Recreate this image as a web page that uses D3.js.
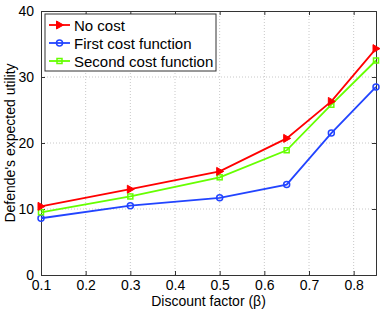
<!DOCTYPE html>
<html>
<head>
<meta charset="utf-8">
<script src="https://cdn.jsdelivr.net/npm/d3@7"></script>
<style>
  body { margin: 0; background: #fff; }
  text { font-family: "Liberation Sans", Arial, sans-serif; }
</style>
</head>
<body>
<script>
// Discount factor values
const betas = [0.1, 0.3, 0.5, 0.65, 0.75, 0.85];
const noCost = [10.4, 13.0, 15.7, 20.7, 26.3, 34.3];
const firstCost = [8.6, 10.5, 11.7, 13.7, 21.5, 28.5];
const secondCost = [9.5, 11.9, 14.8, 18.9, 25.8, 32.5];
const xTicks = [0.1, 0.2, 0.3, 0.4, 0.5, 0.6, 0.7, 0.8];
const yTicks = [0, 10, 20, 30, 40];

const series = [
    { name: "No cost", values: noCost, color: "#ff0000", marker: "triangle" },
    { name: "First cost function", values: firstCost, color: "#2244ff", marker: "circle" },
    { name: "Second cost function", values: secondCost, color: "#66ff00", marker: "square" }
];

const width = 382, height = 311;
const margin = { top: 11, right: 6, bottom: 36, left: 41 };

const x = d3.scaleLinear().domain([0.1, 0.85]).range([margin.left, width - margin.right]);
const y = d3.scaleLinear().domain([0, 40]).range([height - margin.bottom, margin.top]);

const svg = d3.select("body").append("svg")
    .attr("width", width)
    .attr("height", height);

// grid
svg.append("g")
    .selectAll("line")
    .data(xTicks.slice(1))
    .join("line")
    .attr("x1", d => x(d)).attr("x2", d => x(d))
    .attr("y1", y(0)).attr("y2", y(40))
    .attr("stroke", "#c8c8c8")
    .attr("stroke-dasharray", "1,2");

svg.append("g")
    .selectAll("line")
    .data(yTicks.slice(1, -1))
    .join("line")
    .attr("x1", x(0.1)).attr("x2", x(0.85))
    .attr("y1", d => y(d)).attr("y2", d => y(d))
    .attr("stroke", "#c8c8c8")
    .attr("stroke-dasharray", "1,2");

// axes, MATLAB style ticks pointing inward
const xAxis = d3.axisBottom(x).tickValues(xTicks).tickSize(-4).tickPadding(5).tickFormat(d3.format(".1f"));
const yAxis = d3.axisLeft(y).tickValues(yTicks).tickSize(-4).tickPadding(7);

svg.append("g")
    .attr("transform", `translate(0,${y(0)})`)
    .call(xAxis)
    .call(g => g.selectAll("text").attr("font-size", 14).attr("fill", "#000"));

svg.append("g")
    .attr("transform", `translate(${x(0.1)},0)`)
    .call(yAxis)
    .call(g => g.selectAll("text").attr("font-size", 14).attr("fill", "#000"));

svg.append("g")
    .attr("transform", `translate(0,${y(40)})`)
    .call(d3.axisTop(x).tickValues(xTicks).tickSize(-4).tickFormat(""));

svg.append("g")
    .attr("transform", `translate(${x(0.85)},0)`)
    .call(d3.axisRight(y).tickValues(yTicks).tickSize(-4).tickFormat(""));

svg.selectAll(".domain").attr("stroke", "#333");
svg.selectAll(".tick line").attr("stroke", "#333");

// axis titles
svg.append("text")
    .attr("x", (x(0.1) + x(0.85)) / 2)
    .attr("y", height - 5)
    .attr("text-anchor", "middle")
    .attr("font-size", 14)
    .text("Discount factor (β)");

svg.append("text")
    .attr("transform", `translate(15,${(y(0) + y(40)) / 2}) rotate(-90)`)
    .attr("text-anchor", "middle")
    .attr("font-size", 14)
    .text("Defende's expected utility");

function drawMarker(g, type, color) {
    if (type === "triangle") {
        g.append("path").attr("d", "M-3,-4L4,0L-3,4Z").attr("fill", color).attr("stroke", color).attr("stroke-width", 1);
    } else if (type === "circle") {
        g.append("circle").attr("r", 3).attr("fill", "none").attr("stroke", color).attr("stroke-width", 1.5);
    } else {
        g.append("rect").attr("x", -2.5).attr("y", -2.5).attr("width", 5).attr("height", 5)
            .attr("fill", "none").attr("stroke", color).attr("stroke-width", 1.5);
    }
}

const line = d3.line().x((d, i) => x(betas[i])).y(d => y(d));

// draw order: blue, green, red on top
[series[1], series[2], series[0]].forEach(s => {
    svg.append("path")
        .attr("d", line(s.values))
        .attr("fill", "none")
        .attr("stroke", s.color)
        .attr("stroke-width", 1.8);
    s.values.forEach((v, i) => {
        const g = svg.append("g").attr("transform", `translate(${x(betas[i])},${y(v)})`);
        drawMarker(g, s.marker, s.color);
    });
});

// legend
const lg = svg.append("g");
lg.append("rect")
    .attr("x", 45).attr("y", 14).attr("width", 171).attr("height", 57)
    .attr("fill", "#fff").attr("stroke", "#333");
series.forEach((s, i) => {
    const cy = 25 + i * 18;
    lg.append("line").attr("x1", 49).attr("x2", 70).attr("y1", cy).attr("y2", cy)
        .attr("stroke", s.color).attr("stroke-width", 1.8);
    drawMarker(lg.append("g").attr("transform", `translate(59.5,${cy})`), s.marker, s.color);
    lg.append("text").attr("x", 74).attr("y", cy + 5.5).attr("font-size", 15).text(s.name);
});
</script>
</body>
</html>
